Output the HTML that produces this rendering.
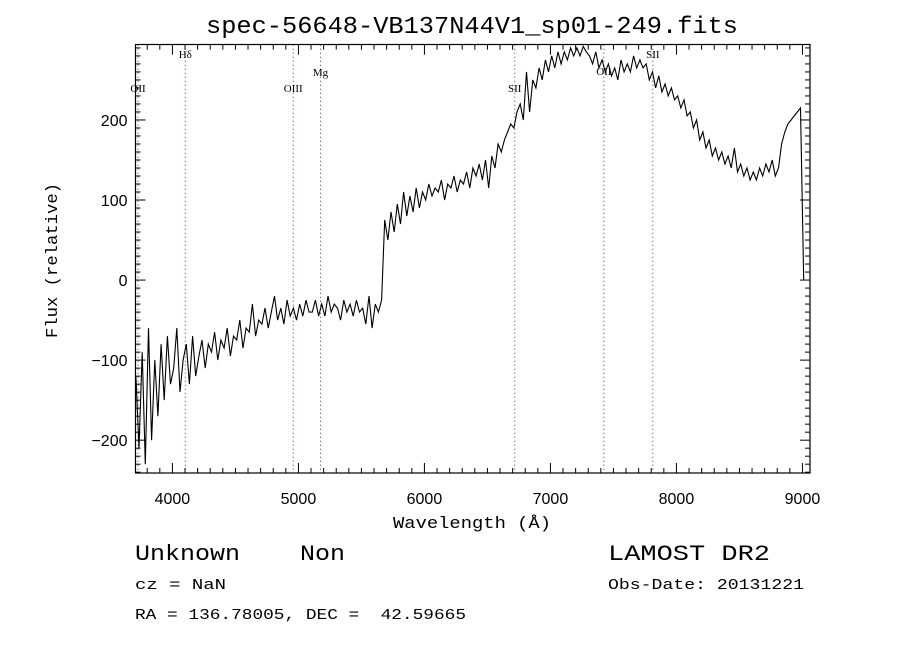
<!DOCTYPE html>
<html><head><meta charset="utf-8"><style>
body{margin:0;background:#fff;}
svg text{font-family:"Liberation Mono",monospace;fill:#000;}
</style></head><body>
<svg id="chart" width="900" height="650" xmlns="http://www.w3.org/2000/svg">
<text x="206" y="33" font-size="24" textLength="532" lengthAdjust="spacingAndGlyphs">spec-56648-VB137N44V1_sp01-249.fits</text>
<g id="lines"></g>
<g id="ticks"></g>
<path id="spec" fill="none" stroke="#000" stroke-width="1.1"/>
<rect x="135.5" y="44.5" width="674.5" height="428.5" fill="none" stroke="#000" stroke-width="1.2"/>
<text x="393" y="528" font-size="17" textLength="158" lengthAdjust="spacingAndGlyphs">Wavelength (Å)</text>
<text transform="translate(57,338) rotate(-90)" font-size="17" textLength="155" lengthAdjust="spacingAndGlyphs">Flux (relative)</text>
<text x="135" y="560" font-size="22" textLength="210" lengthAdjust="spacingAndGlyphs" xml:space="preserve">Unknown    Non</text>
<text x="608" y="560" font-size="22" textLength="162" lengthAdjust="spacingAndGlyphs">LAMOST DR2</text>
<text x="135" y="589" font-size="15" textLength="91" lengthAdjust="spacingAndGlyphs">cz = NaN</text>
<text x="608" y="589" font-size="15" textLength="196" lengthAdjust="spacingAndGlyphs">Obs-Date: 20131221</text>
<text x="135" y="619" font-size="15" textLength="331" lengthAdjust="spacingAndGlyphs" xml:space="preserve">RA = 136.78005, DEC =  42.59665</text>
</svg>
<script>
const startWave = 3710;
const stepWave = 25;
const flux = [
-120,-210,-90,-230, -60,-200,-100,-170, -80,-150,-70,-130, -110,-60,-140,-100,
-80,-130,-70,-120, -95,-75,-110,-80, -90,-65,-100,-75, -85,-60,-95,-70,
-75,-50,-85,-60, -65,-30,-70,-50, -55,-35,-60,-40, -20,-50,-35,-55,
-25,-45,-35,-50, -30,-45,-25,-40, -40,-25,-45,-30, -45,-20,-40,-30,
-35,-50,-25,-40, -30,-45,-25,-40, -35,-55,-20,-60, -30,-40,-25,75,
50,85,60,95, 70,110,80,105, 85,115,90,110, 100,120,105,115,
110,125,100,120, 115,130,110,125, 120,135,115,140, 130,145,125,150,
115,155,140,170, 160,175,185,195, 190,210,220,200, 260,210,250,240,
265,250,275,260, 280,265,285,270, 285,275,290,280, 290,280,292,285,
280,270,285,265, 275,260,270,255, 265,250,275,260, 270,260,280,265,
275,265,270,250, 260,240,255,235, 245,230,240,225, 230,215,225,205,
210,190,200,175, 185,165,175,155, 165,150,160,145, 155,140,165,135,
145,130,140,125, 135,125,140,130, 145,135,150,130, 140,170,185,195,
200,205,210,215, 0
];
const lineNames = ["OII","Hδ","OIII","Mg","SII","OII","SII"];
const lineWaves = [3727,4102,4959,5175,6717,7424,7813];
const lineLabelY = [92,58,92,76,92,75,58];
const xTicks = [4000,5000,6000,7000,8000,9000];
const yTicks = [-200,-100,0,100,200];

const X0=135.5,X1=810,Y0=44.7,Y1=473;
const xmin=3707,xmax=9060,ymin=-241,ymax=294;
const sx=v=>X0+(v-xmin)/(xmax-xmin)*(X1-X0);
const sy=v=>Y1-(v-ymin)/(ymax-ymin)*(Y1-Y0);
const NS="http://www.w3.org/2000/svg";
function mk(tag,attrs,parent){const e=document.createElementNS(NS,tag);for(const k in attrs)e.setAttribute(k,attrs[k]);parent.appendChild(e);return e;}

let d="";
flux.forEach((f,i)=>{const w=startWave+i*stepWave;d+=(i?"L":"M")+sx(w).toFixed(1)+","+sy(f).toFixed(1);});
document.getElementById("spec").setAttribute("d",d);

const lg=document.getElementById("lines");
lineWaves.forEach((w,i)=>{
  const l=mk("line",{x1:sx(w),x2:sx(w),y1:Y0,y2:Y1,stroke:"#8b2020","stroke-width":1,"stroke-dasharray":"1,3"},lg);
  
  
  const t=mk("text",{x:sx(w),y:lineLabelY[i],"font-size":11,"text-anchor":"middle",style:"font-family:'Liberation Serif',serif"},lg);
  t.textContent=lineNames[i];
  
  
});

const tg=document.getElementById("ticks");
for(let w=3800;w<=9000;w+=100){
  const major=w%1000===0, len=major?10:5, x=sx(w);
  mk("line",{x1:x,x2:x,y1:Y1,y2:Y1-len,stroke:"#000"},tg);
  mk("line",{x1:x,x2:x,y1:Y0,y2:Y0+len,stroke:"#000"},tg);
}
for(let v=-240;v<=290;v+=10){
  const major=v%100===0, len=major?10:5, y=sy(v);
  mk("line",{x1:X0,x2:X0+len,y1:y,y2:y,stroke:"#000"},tg);
  mk("line",{x1:X1,x2:X1-len,y1:y,y2:y,stroke:"#000"},tg);
}
xTicks.forEach(v=>{
  const t=mk("text",{x:sx(v),y:Y1+31,"font-size":16,"text-anchor":"middle",style:"font-family:'Liberation Sans',sans-serif"},tg);
  t.textContent=v;
  
  
});
yTicks.forEach(v=>{
  const t=mk("text",{x:X0-8,y:sy(v)+6,"font-size":16,"text-anchor":"end",style:"font-family:'Liberation Sans',sans-serif"},tg);
  t.textContent=v<0?"\u2212"+(-v):v;
  
  
});
</script>
</body></html>
